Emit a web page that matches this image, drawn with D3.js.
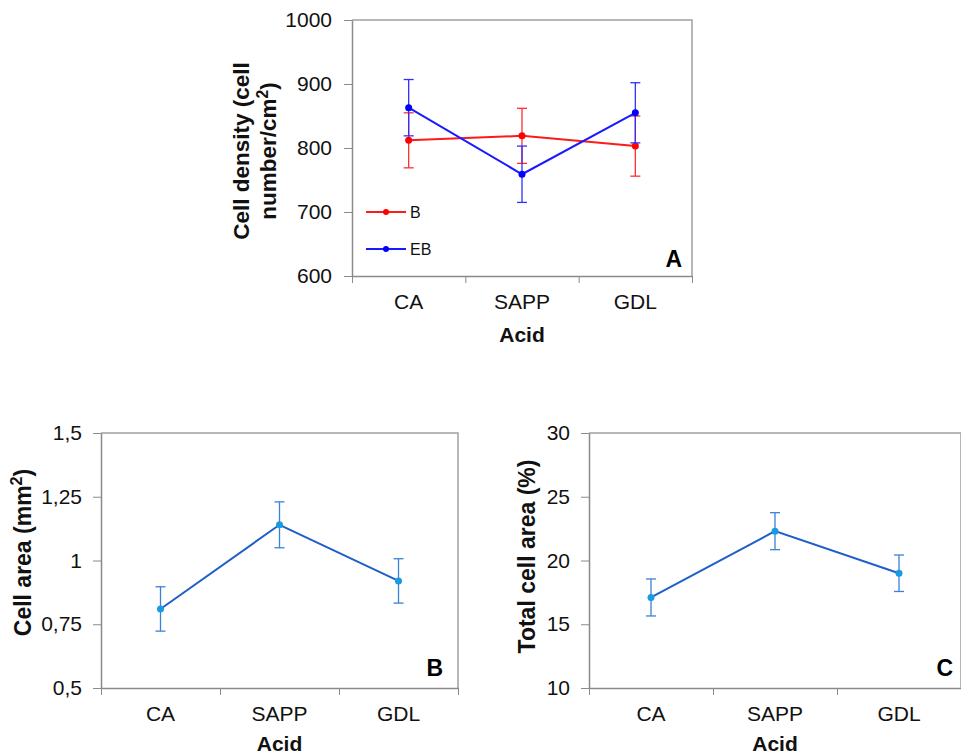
<!DOCTYPE html>
<html><head><meta charset="utf-8">
<script src="https://cdn.jsdelivr.net/npm/d3@7"></script>
<style>
html,body{margin:0;padding:0;background:#fff;}
svg{display:block;font-family:"Liberation Sans",Arial,sans-serif;}
</style></head>
<body>
<svg id="chart" width="961" height="756"></svg>
<script>
// ---------- data ----------
const categories = ["CA", "SAPP", "GDL"];
const densityB = [812, 819, 803];
const densityBErr = [43, 43, 47];
const densityEB = [863, 759, 855];
const densityEBErr = [44, 44, 47];
const cellArea = [0.81, 1.14, 0.92];
const cellAreaErr = [0.087, 0.09, 0.087];
const totalArea = [17.1, 22.3, 19.0];
const totalAreaErr = [1.45, 1.45, 1.43];
const densityTicks = [600, 700, 800, 900, 1000];
const densityTickLabels = ["600", "700", "800", "900", "1000"];
const areaTicks = [0.5, 0.75, 1, 1.25, 1.5];
const areaTickLabels = ["0,5", "0,75", "1", "1,25", "1,5"];
const totalTicks = [10, 15, 20, 25, 30];
const totalTickLabels = ["10", "15", "20", "25", "30"];
const xTitle = "Acid";

const svg = d3.select("#chart");
const AXIS = "#8a8a8a";

function panel(cfg) {
  const g = svg.append("g");
  const x = d3.scaleBand().domain(categories).range([cfg.left, cfg.right]).padding(0);
  const idx = d3.scaleLinear().domain([0, categories.length]).range([cfg.left, cfg.right]);
  const y = d3.scaleLinear().domain(cfg.domain).range([cfg.bottom, cfg.top]);
  const cx = c => x(c) + x.bandwidth() / 2;

  // border (top/right)
  g.append("path")
    .attr("d", `M${cfg.left},${cfg.top}H${cfg.right}V${cfg.bottom}`)
    .attr("fill", "none").attr("stroke", "#a0a0a0").attr("stroke-width", 1.5);

  // y axis
  const ya = g.append("g").attr("transform", `translate(${cfg.left},0)`)
    .call(d3.axisLeft(y).tickValues(cfg.ticks)
      .tickFormat((d, i) => cfg.tickLabels[i]).tickSizeInner(8).tickSizeOuter(0).tickPadding(cfg.tickPad));
  ya.select(".domain").attr("stroke", AXIS).attr("stroke-width", 1.5);
  ya.selectAll(".tick line").attr("stroke", AXIS).attr("stroke-width", 1);
  ya.selectAll(".tick text").attr("font-size", 21).attr("fill", "#111")
    .attr("font-family", "Liberation Sans, Arial, sans-serif");

  // x axis
  const xa = g.append("g").attr("transform", `translate(0,${cfg.bottom})`)
    .call(d3.axisBottom(idx).tickValues(d3.range(categories.length + 1))
      .tickFormat("").tickSizeInner(7).tickSizeOuter(0));
  xa.select(".domain").attr("stroke", AXIS).attr("stroke-width", 1.5);
  xa.selectAll(".tick line").attr("stroke", AXIS).attr("stroke-width", 1);

  g.selectAll("text.xlab").data(categories).join("text")
    .attr("class", "xlab")
    .attr("x", d => cx(d)).attr("y", cfg.bottom + 26)
    .attr("dy", "0.35em").attr("text-anchor", "middle")
    .attr("font-size", 21).attr("fill", "#111").text(d => d);

  g.append("text").attr("x", (cfg.left + cfg.right) / 2).attr("y", cfg.bottom + cfg.xTitleDy)
    .attr("dy", "0.35em").attr("text-anchor", "middle")
    .attr("font-size", 21).attr("font-weight", "bold").attr("fill", "#111").text(xTitle);

  // y title
  const yt = g.append("text")
    .attr("transform", `translate(${cfg.titleX},${(cfg.top + cfg.bottom) / 2 + cfg.titleDy}) rotate(-90)`)
    .attr("text-anchor", "middle").attr("font-size", cfg.titleSize).attr("font-weight", "bold").attr("fill", "#111");
  cfg.titleLines.forEach((line, li) => {
    const t = yt.append("tspan").attr("x", 0).attr("dy", li === 0 ? 0 : cfg.titleLineGap);
    line.forEach(part => {
      if (part.sup) {
        t.append("tspan").attr("baseline-shift", "super").attr("font-size", cfg.titleSize * 0.7).text(part.text);
      } else {
        t.append("tspan").text(part.text);
      }
    });
  });

  // series
  cfg.series.forEach(s => {
    const pts = categories.map((c, i) => ({ c, v: s.values[i], e: s.errors[i] }));
    const eb = g.append("g");
    pts.forEach(p => {
      const xx = cx(p.c);
      eb.append("line").attr("x1", xx).attr("x2", xx).attr("y1", y(p.v - p.e)).attr("y2", y(p.v + p.e))
        .attr("stroke", s.errColor).attr("stroke-width", 1.3);
      [p.v - p.e, p.v + p.e].forEach(v => {
        eb.append("line").attr("x1", xx - 5).attr("x2", xx + 5).attr("y1", y(v)).attr("y2", y(v))
          .attr("stroke", s.errColor).attr("stroke-width", 1.3);
      });
    });
    g.append("path").datum(pts)
      .attr("d", d3.line().x(p => cx(p.c)).y(p => y(p.v)))
      .attr("fill", "none").attr("stroke", s.lineColor).attr("stroke-width", s.lineWidth);
    g.selectAll(null).data(pts).join("circle")
      .attr("cx", p => cx(p.c)).attr("cy", p => y(p.v)).attr("r", s.r)
      .attr("fill", s.markerColor);
  });

  // legend
  if (cfg.legend) {
    cfg.series.forEach((s, i) => {
      const ly = cfg.legend.y + i * cfg.legend.gap;
      const lx = cfg.left + cfg.legend.dx;
      g.append("line").attr("x1", lx).attr("x2", lx + 40).attr("y1", ly).attr("y2", ly)
        .attr("stroke", s.lineColor).attr("stroke-width", s.lineWidth);
      g.append("circle").attr("cx", lx + 20).attr("cy", ly).attr("r", 3).attr("fill", s.markerColor);
      g.append("text").attr("x", lx + 44).attr("y", ly).attr("dy", "0.35em")
        .attr("font-size", 16).attr("fill", "#111").text(s.name);
    });
  }

  // panel letter
  g.append("text").attr("x", cfg.right - cfg.letterDx).attr("y", cfg.bottom - cfg.letterDy)
    .attr("text-anchor", "end").attr("font-size", 23).attr("font-weight", "bold").attr("fill", "#000")
    .text(cfg.letter);
}

panel({
  left: 352, right: 692, top: 20, bottom: 276, tickPad: 12, xTitleDy: 59,
  domain: [600, 1000], ticks: densityTicks, tickLabels: densityTickLabels,
  titleX: 249, titleDy: 3, titleSize: 22.5, titleLineGap: 27,
  titleLines: [[{ text: "Cell density (cell" }], [{ text: "number/cm" }, { text: "2", sup: true }, { text: ")" }]],
  series: [
    { name: "B", values: densityB, errors: densityBErr, lineColor: "#ff1a1a", markerColor: "#ff0000", errColor: "#ff3030", lineWidth: 2, r: 3.5 },
    { name: "EB", values: densityEB, errors: densityEBErr, lineColor: "#1a1aff", markerColor: "#0000ff", errColor: "#3030ff", lineWidth: 2, r: 3.5 }
  ],
  legend: { dx: 14, y: 212, gap: 37 },
  letter: "A", letterDx: 10, letterDy: 9
});

panel({
  left: 101, right: 458, top: 433, bottom: 688, tickPad: 11, xTitleDy: 56,
  domain: [0.5, 1.5], ticks: areaTicks, tickLabels: areaTickLabels,
  titleX: 31, titleDy: -8, titleSize: 23, titleLineGap: 0,
  titleLines: [[{ text: "Cell area (mm" }, { text: "2", sup: true }, { text: ")" }]],
  series: [
    { name: "", values: cellArea, errors: cellAreaErr, lineColor: "#1f5fc8", markerColor: "#1a9ae0", errColor: "#3a82d8", lineWidth: 2, r: 3.5 }
  ],
  letter: "B", letterDx: 15, letterDy: 12
});

panel({
  left: 589, right: 961, top: 433, bottom: 688, tickPad: 11, xTitleDy: 56,
  domain: [10, 30], ticks: totalTicks, tickLabels: totalTickLabels,
  titleX: 535, titleDy: -4, titleSize: 23, titleLineGap: 0,
  titleLines: [[{ text: "Total cell area (%)" }]],
  series: [
    { name: "", values: totalArea, errors: totalAreaErr, lineColor: "#1f5fc8", markerColor: "#1a9ae0", errColor: "#3a82d8", lineWidth: 2, r: 3.5 }
  ],
  letter: "C", letterDx: 8, letterDy: 12
});
</script>
</body></html>
